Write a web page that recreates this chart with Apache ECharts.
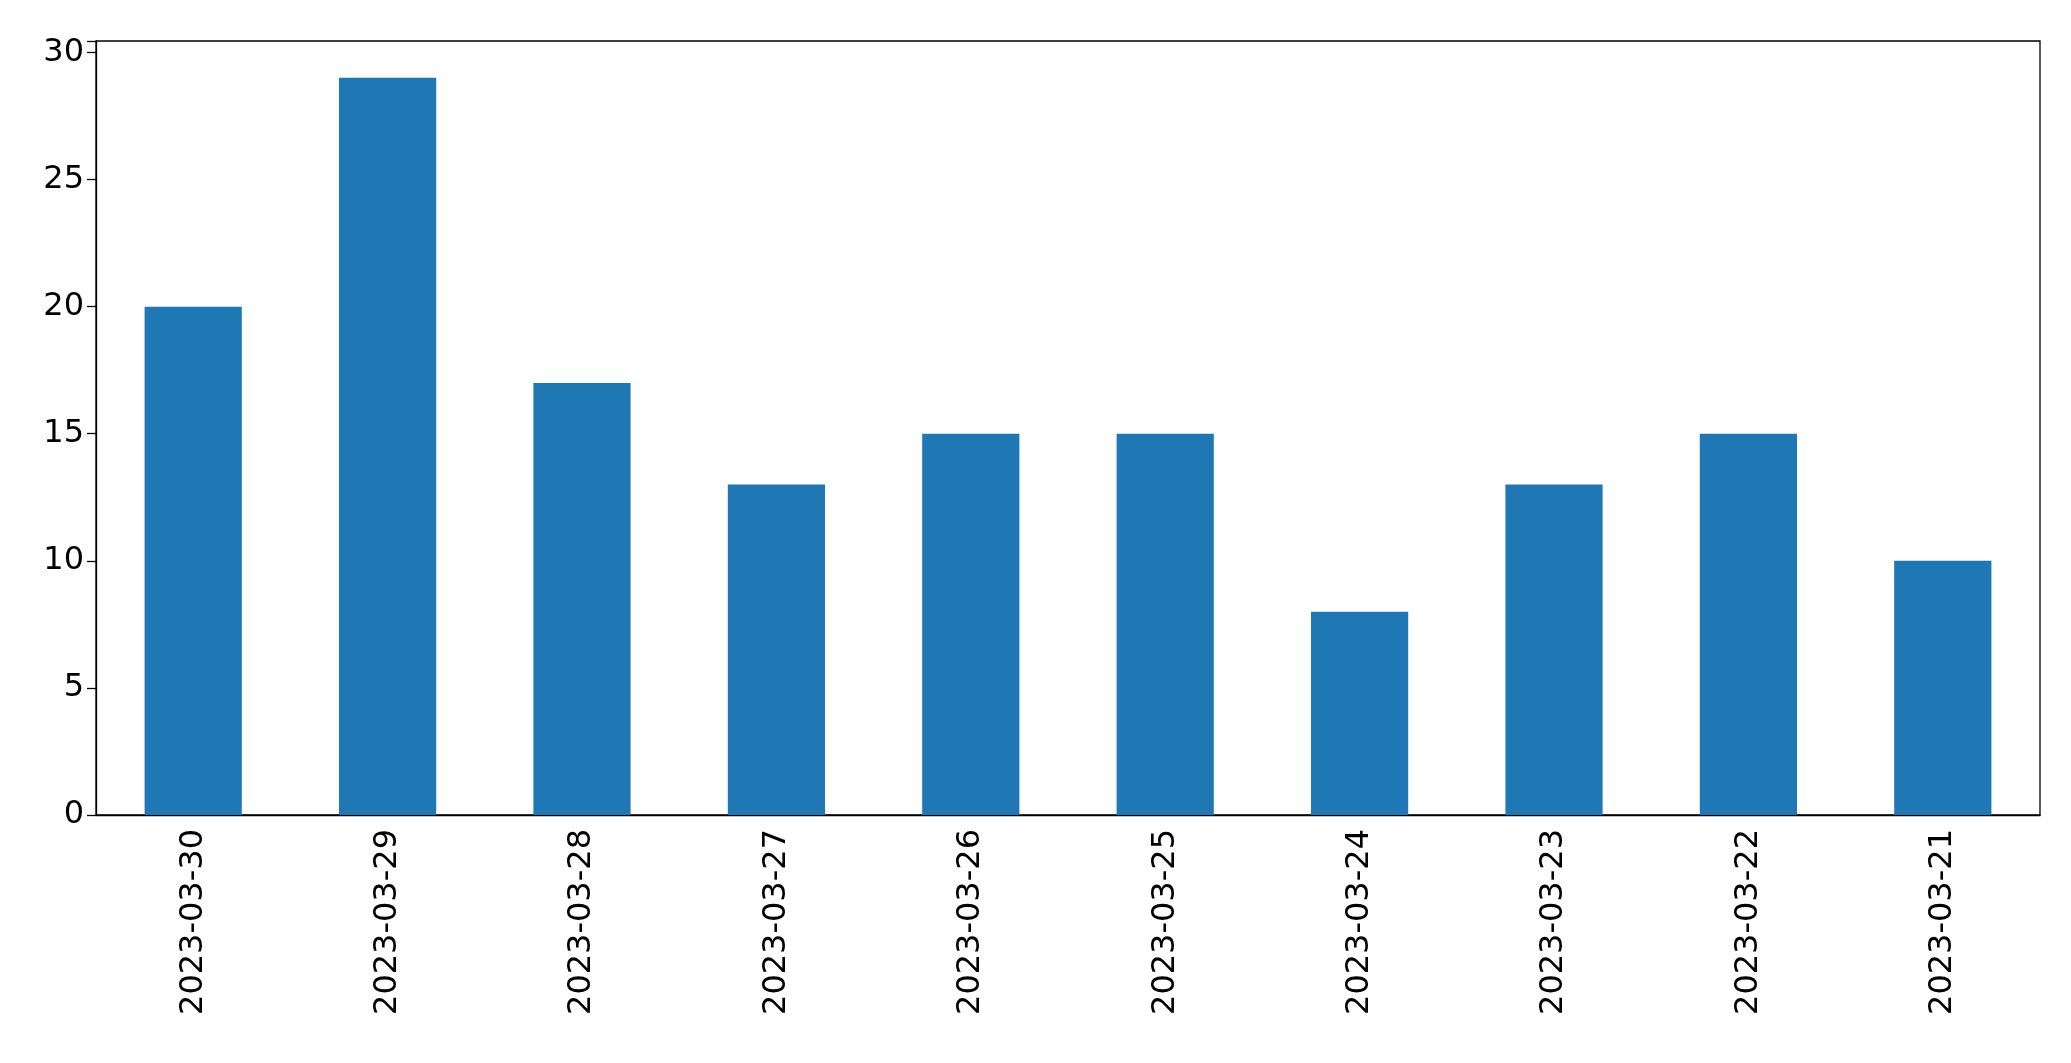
<!DOCTYPE html>
<html>
<head>
<meta charset="UTF-8" />
<style>
  body { margin: 0; background: #fff; }
  #chart { width: 2071px; height: 1063px; }
</style>
</head>
<body>
<div id="chart"></div>
<script src="https://cdn.jsdelivr.net/npm/echarts@6/dist/echarts.min.js"></script>
<script>
  const categories = ['2023-03-30', '2023-03-29', '2023-03-28', '2023-03-27', '2023-03-26',
                      '2023-03-25', '2023-03-24', '2023-03-23', '2023-03-22', '2023-03-21'];
  const counts = [20, 29, 17, 13, 15, 15, 8, 13, 15, 10];

  const chart = echarts.init(document.getElementById('chart'));
  const font = { fontFamily: 'DejaVu Sans', fontSize: 32, color: '#000' };
  chart.setOption({
    animation: false,
    grid: { left: 96, right: 31, top: 41, bottom: 248, show: true, borderColor: '#000', borderWidth: 1.3 },
    xAxis: {
      type: 'category',
      data: categories,
      axisLine: { lineStyle: { color: '#000', width: 1.3 } },
      axisTick: { alignWithLabel: true, length: 9, lineStyle: { color: '#000', width: 1.3 } },
      axisLabel: Object.assign({ rotate: 90, margin: 14 }, font)
    },
    yAxis: {
      type: 'value',
      min: 0,
      max: 30.45,
      interval: 5,
      splitLine: { show: false },
      axisLine: { show: true, lineStyle: { color: '#000', width: 1.3 } },
      axisTick: { show: true, length: 9, lineStyle: { color: '#000', width: 1.3 } },
      axisLabel: Object.assign({ margin: 12, formatter: v => (v % 5 === 0 ? v : '') }, font)
    },
    series: [{
      type: 'bar',
      data: counts,
      barWidth: '50%',
      itemStyle: { color: '#1f77b4' }
    }]
  });
</script>
</body>
</html>
